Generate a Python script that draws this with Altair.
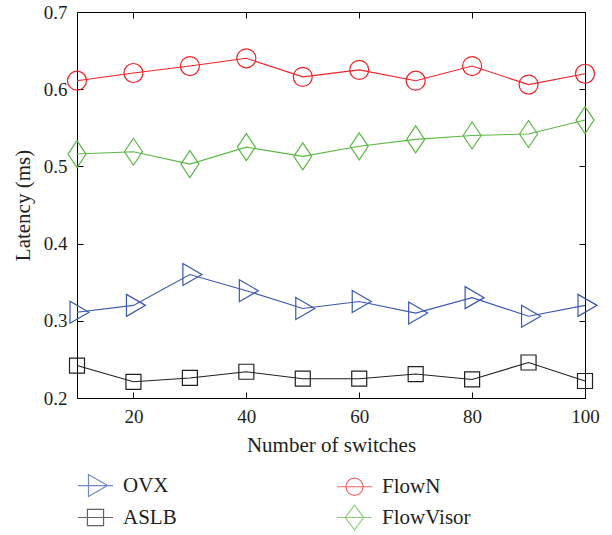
import altair as alt
import pandas as pd

switches = [10, 20, 30, 40, 50, 60, 70, 80, 90, 100]
ovx = [0.311, 0.320, 0.360, 0.339, 0.316, 0.325, 0.310, 0.330, 0.306, 0.320]
aslb = [0.242, 0.221, 0.226, 0.234, 0.225, 0.225, 0.231, 0.224, 0.246, 0.222]
flown = [0.611, 0.621, 0.630, 0.640, 0.616, 0.625, 0.611, 0.630, 0.606, 0.620]
flowvisor = [0.516, 0.519, 0.503, 0.525, 0.513, 0.526, 0.535, 0.540, 0.542, 0.560]

series_names = ["OVX", "ASLB", "FlowN", "FlowVisor"]
series_values = [ovx, aslb, flown, flowvisor]
colors = ["#3B58B2", "#231F20", "#EE2328", "#5DB846"]

x_ticks = [20, 40, 60, 80, 100]
y_ticks = [0.2, 0.3, 0.4, 0.5, 0.6, 0.7]

plot_shapes = [
    "M-0.7,-1.1L1.2,0L-0.7,1.1Z",
    "M-0.75,-0.75H0.75V0.75H-0.75Z",
    "M0.95,0A0.95,0.95,0,1,1,-0.95,0A0.95,0.95,0,1,1,0.95,0Z",
    "M-0.9,0L0,-1.35L0.9,0L0,1.35Z",
]
legend_shapes = [
    "M-1,0H1M-0.4,-0.63L0.69,0L-0.4,0.63Z",
    "M-1,0H1M-0.46,-0.46H0.46V0.46H-0.46Z",
    "M-1,0H1M0.49,0A0.49,0.49,0,1,1,-0.49,0A0.49,0.49,0,1,1,0.49,0Z",
    "M-1,0H1M-0.52,0L0,-0.72L0.52,0L0,0.72Z",
]

rows = []
for name, vals in zip(series_names, series_values):
    for xv, yv in zip(switches, vals):
        rows.append({"switches": xv, "latency": yv, "series": name})
df = pd.DataFrame(rows)

FONT = "Liberation Serif"
TXT = "#231F20"

xscale = alt.Scale(domain=[10, 100], nice=False)
yscale = alt.Scale(domain=[0.2, 0.7], nice=False)
cscale = alt.Scale(domain=series_names, range=colors)

common_axis = dict(domain=False, grid=False, ticks=True, tickSize=6, tickColor="black",
                   tickWidth=1, offset=-6, labelFlush=False)

base = alt.Chart(df)

lines = base.mark_line(strokeWidth=1.1).encode(
    x=alt.X("switches:Q", scale=xscale,
            axis=alt.Axis(orient="bottom", values=x_ticks, title="Number of switches",
                          labelPadding=9, titlePadding=8, **common_axis)),
    y=alt.Y("latency:Q", scale=yscale,
            axis=alt.Axis(orient="left", values=y_ticks, format=".1f", title="Latency (ms)",
                          labelPadding=10, titlePadding=10, **common_axis)),
    color=alt.Color("series:N", scale=cscale, legend=None),
    detail="series:N",
)

points = base.mark_point(filled=False, size=400, strokeWidth=1.2, opacity=1).encode(
    x=alt.X("switches:Q", scale=xscale,
            axis=alt.Axis(orient="top", values=x_ticks, labels=False, title=None, **common_axis)),
    y=alt.Y("latency:Q", scale=yscale,
            axis=alt.Axis(orient="right", values=y_ticks, labels=False, title=None, **common_axis)),
    color=alt.Color("series:N", scale=cscale, legend=None),
    shape=alt.Shape("series:N", scale=alt.Scale(domain=series_names, range=plot_shapes), legend=None),
)

legend_layer = base.transform_filter(alt.datum.latency < 0).mark_point(
    filled=False, strokeWidth=1.2
).encode(
    x=alt.X("switches:Q", scale=xscale, axis=None),
    y=alt.Y("latency:Q", scale=yscale, axis=None),
    color=alt.Color("series:N", scale=cscale, legend=alt.Legend(title=None)),
    shape=alt.Shape("series:N", scale=alt.Scale(domain=series_names, range=legend_shapes),
                    legend=alt.Legend(title=None)),
)

chart = alt.layer(lines, points, legend_layer).resolve_scale(
    color="independent", shape="independent"
).resolve_axis(
    x="independent", y="independent"
).properties(
    width=508, height=386,
    autosize=alt.AutoSizeParams(type="none"),
    padding={"left": 77, "top": 12, "right": 27, "bottom": 137},
    background="white",
).configure_view(
    stroke="black", strokeWidth=1
).configure_axis(
    labelFont=FONT, labelFontSize=19, labelColor=TXT,
    titleFont=FONT, titleFontSize=21, titleFontWeight="normal", titleColor=TXT,
).configure_legend(
    orient="none", legendX=0, legendY=455, columns=2, columnPadding=157, rowPadding=0,
    labelFont=FONT, labelFontSize=21, labelColor=TXT, symbolSize=1225,
    symbolStrokeWidth=1.2, labelOffset=9, padding=0,
)

chart.save("out.html", embed_options={"renderer": "svg", "actions": False})
